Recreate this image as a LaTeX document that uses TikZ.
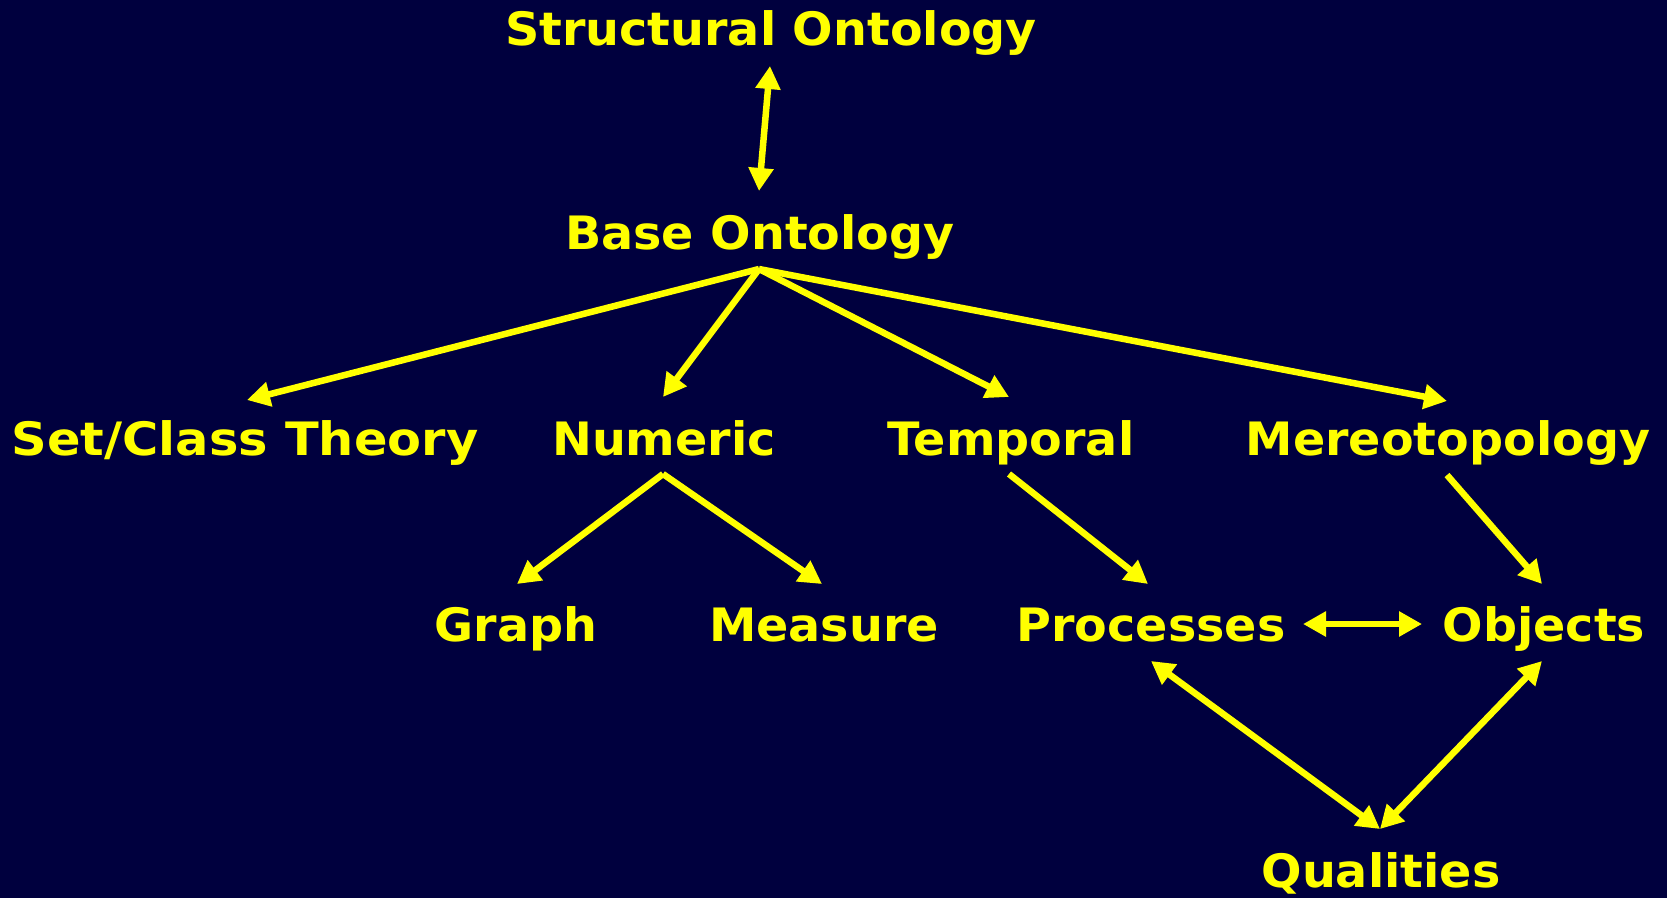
\documentclass[tikz,border=0pt]{standalone}
\usepackage{fontspec}
\setmainfont[FakeStretch=1.035]{DejaVu Sans}
\newfontfamily\widefont[FakeStretch=1.075]{DejaVu Sans}
\usetikzlibrary{arrows.meta}
\definecolor{bg}{HTML}{00003E}
\definecolor{yel}{HTML}{FFFF00}
\tikzset{
  lbl/.style={text=yel, font=\bfseries\fontsize{46}{50}\selectfont, inner sep=0pt, anchor=base},
  arr/.style={draw=yel, line width=6.5pt, -{Triangle[length=23pt,width=24pt]}},
  darr/.style={draw=yel, line width=6.5pt, {Triangle[length=23pt,width=24pt]}-{Triangle[length=23pt,width=24pt]}}
}
\begin{document}
\begin{tikzpicture}[x=1pt,y=-1pt]
\fill[bg] (0,0) rectangle (1667,898);
\useasboundingbox (0,0) rectangle (1667,898);
% nodes
\node[lbl] (so) at (771,45) {Structural Ontology};
\node[lbl] (bo) at (760,249) {Base Ontology};
\node[lbl, font=\widefont\bfseries\fontsize{46}{50}\selectfont] (sc) at (245,455) {Set/Class Theory};
\node[lbl] (nu) at (664,455) {Numeric};
\node[lbl] (te) at (1011,455) {Temporal};
\node[lbl] (me) at (1448,455) {Mereotopology};
\node[lbl] (gr) at (516,641) {Graph};
\node[lbl] (ms) at (824,641) {Measure};
\node[lbl] (pr) at (1151,641) {Processes};
\node[lbl] (ob) at (1544,641) {Objects};
\node[lbl] (qu) at (1381,887) {Qualities};
% connector end points
\coordinate (so-b) at (770,66);
\coordinate (bo-t) at (759,191);
\coordinate (bo-b) at (759,269);
\coordinate (sc-t) at (247,400);
\coordinate (nu-t) at (663,397);
\coordinate (te-t) at (1009,397);
\coordinate (me-t) at (1447,401);
\coordinate (nu-b) at (663,474);
\coordinate (gr-t) at (517,584);
\coordinate (ms-t) at (822,584);
\coordinate (te-b) at (1009,474);
\coordinate (pr-t) at (1148,584);
\coordinate (me-b) at (1447,475);
\coordinate (ob-t) at (1542,584);
\coordinate (pr-r) at (1303,624);
\coordinate (ob-l) at (1422,624);
\coordinate (pr-b) at (1151,661);
\coordinate (ob-b) at (1542,661);
\coordinate (qu-t) at (1380,829);
% connectors
\draw[darr] (so-b) -- (bo-t);
\draw[arr] (bo-b) -- (sc-t);
\draw[arr] (bo-b) -- (nu-t);
\draw[arr] (bo-b) -- (te-t);
\draw[arr] (bo-b) -- (me-t);
\draw[arr] (nu-b) -- (gr-t);
\draw[arr] (nu-b) -- (ms-t);
\draw[arr] (te-b) -- (pr-t);
\draw[arr] (me-b) -- (ob-t);
\draw[darr] (pr-r) -- (ob-l);
\draw[darr] (pr-b) -- (qu-t);
\draw[darr] (ob-b) -- (qu-t);
\end{tikzpicture}
\end{document}
